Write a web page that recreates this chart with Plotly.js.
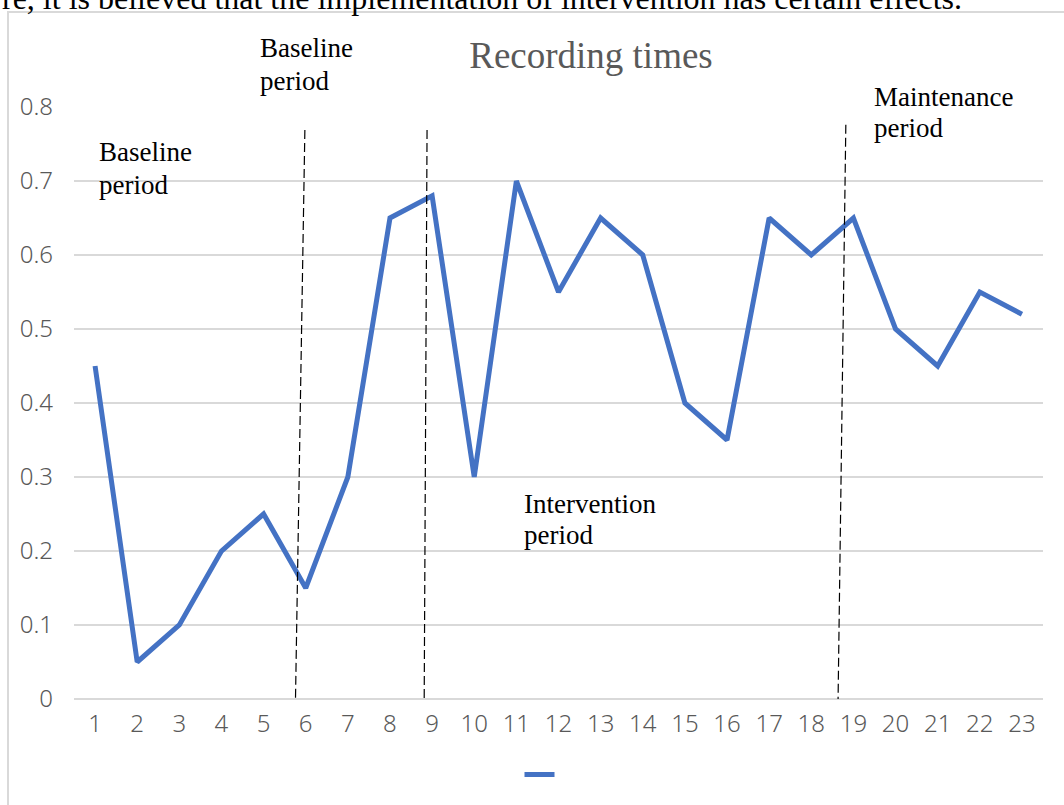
<!DOCTYPE html>
<html><head><meta charset="utf-8">
<script src="https://cdn.plot.ly/plotly-3.0.1.min.js"></script>
<style>html,body{margin:0;padding:0;background:#fff;}#chart{width:1064px;height:805px;}</style>
</head><body><div id="chart"></div>
<script>
const categories = ["1","2","3","4","5","6","7","8","9","10","11","12","13","14","15","16","17","18","19","20","21","22","23"];
const values = [0.45,0.05,0.10,0.20,0.25,0.15,0.30,0.65,0.68,0.30,0.70,0.55,0.65,0.60,0.40,0.35,0.65,0.60,0.65,0.50,0.45,0.55,0.52];
const yTicks = [0,0.1,0.2,0.3,0.4,0.5,0.6,0.7,0.8];
const yTickText = ["0","0.1","0.2","0.3","0.4","0.5","0.6","0.7","0.8"];
const titleText = "Recording times";
const topText = "re, it is believed that the implementation of intervention has certain effects.";
const phaseLine1 = ["Baseline","Baseline","Intervention","Maintenance"];
const phaseLine2 = ["period","period","period","period"];

const serif = "Liberation Serif, Times New Roman, serif";
const sans = "Noto Sans, sans-serif";
const W = 1064, H = 805, L = 74, R = 21, T = 107, B = 106;
const pw = W - L - R, ph = H - T - B;
const px = v => (v - L) / pw;
const py = v => (H - B - v) / ph;

const trace = {
  x: categories, y: values, type: "scatter", mode: "lines",
  name: "", showlegend: true,
  line: {color: "#4472C4", width: 5}
};

const dash = {type: "line", xref: "x", yref: "y", line: {color: "#000", width: 1.2, dash: "9px,4px"}};
const shapes = [
  Object.assign({}, dash, {x0: 4.98, y0: 0.769, x1: 4.75, y1: -0.026}),
  Object.assign({}, dash, {x0: 7.88, y0: 0.769, x1: 7.81, y1: -0.026}),
  Object.assign({}, dash, {x0: 17.82, y0: 0.776, x1: 17.63, y1: -0.026}),
  {type: "rect", xref: "paper", yref: "paper", x0: px(8), x1: px(1200), y0: py(12), y1: py(900),
   line: {color: "#d9d9d9", width: 2}, fillcolor: "rgba(0,0,0,0)", layer: "below"}
];

const FS = 27;
const ann = (text, left, baseline) => ({text: text, xref: "paper", yref: "paper", x: px(left - 1), y: py(baseline - 25),
  xanchor: "left", yanchor: "top", align: "left", showarrow: false,
  font: {family: serif, size: FS, color: "#000"}});

// [left, baseline line1, baseline line2]
const labelPos = [[98, 160, 193], [259, 56, 89], [523, 512, 543], [873, 105, 136]];
const annotations = [];
labelPos.forEach((p, i) => {
  annotations.push(ann(phaseLine1[i], p[0], p[1]));
  annotations.push(ann(phaseLine2[i], p[0], p[2]));
});
annotations.push({text: topText, xref: "paper", yref: "paper", x: px(0), y: py(18), xanchor: "left", yanchor: "bottom",
   showarrow: false, font: {family: serif, size: 32, color: "#000"}});

const layout = {
  width: W, height: H,
  margin: {l: L, r: R, t: T, b: B, pad: 0},
  paper_bgcolor: "#fff", plot_bgcolor: "#fff",
  title: {text: titleText, x: 591 / W, xanchor: "center", y: 1 - 55 / H, yanchor: "middle",
          font: {family: serif, size: 37, color: "#595959"}},
  xaxis: {type: "category", range: [-0.5, 22.5], showgrid: false, zeroline: false,
          showline: false, ticks: "", fixedrange: true, ticklabelstandoff: 8,
          tickfont: {family: sans, size: 24, weight: 300, color: "#595959"}},
  yaxis: {range: [0, 0.8], tickvals: yTicks, ticktext: yTickText, showgrid: true,
          gridcolor: "#d9d9d9", gridwidth: 1.5, zeroline: true, zerolinecolor: "#d9d9d9", zerolinewidth: 1.5,
          showline: false, ticks: "", ticklabelstandoff: 20,
          tickfont: {family: sans, size: 24, weight: 300, color: "#595959"}},
  showlegend: true,
  legend: {orientation: "h", x: px(542), xanchor: "center", y: py(775), yanchor: "middle",
           font: {size: 14}, bgcolor: "rgba(0,0,0,0)"},
  shapes: shapes, annotations: annotations
};

Plotly.newPlot("chart", [trace], layout, {displayModeBar: false, staticPlot: true});
</script></body></html>
